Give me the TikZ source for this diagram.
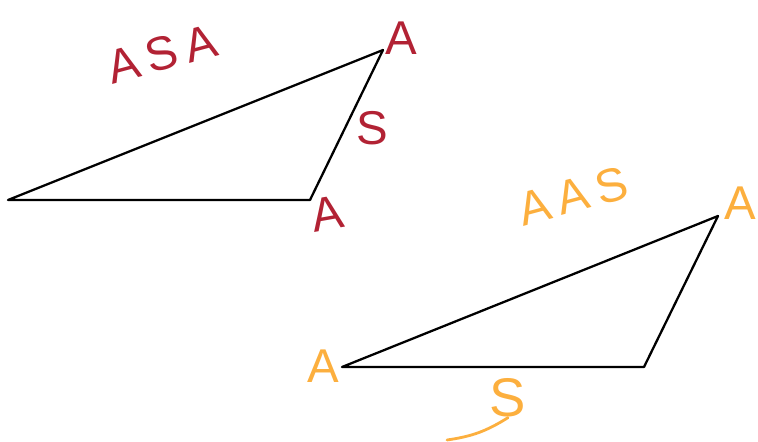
\documentclass[tikz,border=0pt]{standalone}
\usepackage{fontspec}
\setmainfont{Liberation Sans}
\definecolor{markRed}{RGB}{178, 34, 52}
\definecolor{markOrange}{RGB}{252, 175, 62}

\begin{document}
\begin{tikzpicture}[
  x=0.02cm,y=-0.02cm,
  side/.style={draw,line width=1.3pt,line join=round},
  letter/.style={inner sep=0pt,font=\fontsize{27}{27}\selectfont},
  title/.style={letter,font=\fontsize{27}{27}\selectfont,rotate=15}
]
  \useasboundingbox (0,0) rectangle (758,442);
  % first triangle
  \coordinate (p1) at (8,200);
  \coordinate (q1) at (310,200);
  \coordinate (r1) at (383,50);
  \draw[side] (p1) -- (q1) -- (r1) -- cycle;
  \node[title,text=markRed] (asa) at (162,54) {A\,S\,A};
  \node[letter,text=markRed] (topA) at (401,38) {A};
  \node[letter,text=markRed] (sideS) at (372,128) {S};
  \node[letter,text=markRed,rotate=10] (lowA) at (327,214) {A};
  % second triangle
  \coordinate (p2) at (342,367);
  \coordinate (q2) at (644,367);
  \coordinate (r2) at (718,216);
  \draw[side] (p2) -- (q2) -- (r2) -- cycle;
  \node[title,text=markOrange] (aas) at (573,196) {A\,A\,S};
  \node[letter,text=markOrange] (rightA) at (740,203) {A};
  \node[letter,text=markOrange] (leftA) at (323,366) {A};
  \node[letter,text=markOrange,font=\fontsize{31}{31}\selectfont] (baseS) at (508,398) {S};
  \draw[markOrange,line width=1.6pt,line cap=round] (baseS.south) to[bend left=12] (447,440);
\end{tikzpicture}
\end{document}
